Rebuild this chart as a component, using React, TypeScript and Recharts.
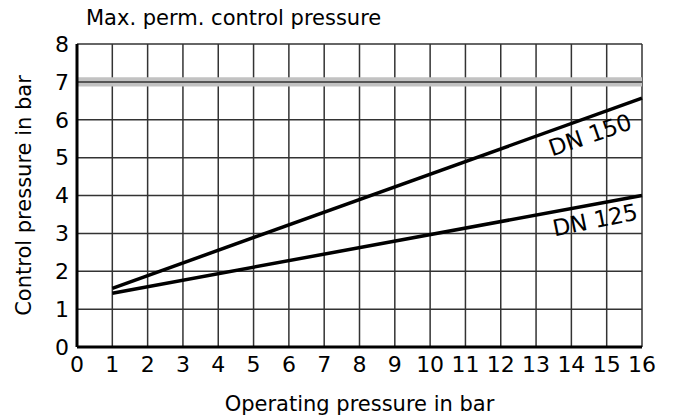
import {
  LineChart,
  Line,
  XAxis,
  YAxis,
  CartesianGrid,
  ReferenceArea,
  ReferenceLine,
  ReferenceDot,
} from "recharts";

// operating pressure (bar) where the curves start / end
const operatingPressure = [1, 16];
// control pressure
const dn150 = [1.55, 6.57];
const dn125 = [1.42, 4.0];

const xTicks = [0, 1, 2, 3, 4, 5, 6, 7, 8, 9, 10, 11, 12, 13, 14, 15, 16];
const yTicks = [0, 1, 2, 3, 4, 5, 6, 7, 8];

// max. permissible control pressure band
const maxPerm = 7;
const maxPermBand = [6.88, 7.12];

// where the curve labels sit (data coords) and their tilt
const labels = [
  { text: "DN 150", x: 14.53, y: 5.6, angle: -19 },
  { text: "DN 125", x: 14.67, y: 3.35, angle: -11.5 },
];

const data = operatingPressure.map((p, i) => ({
  p,
  dn150: dn150[i],
  dn125: dn125[i],
}));

const FONT = "'DejaVu Sans', sans-serif";
const GRID = "#333";

export default function App() {
  return (
    <div style={{ position: "absolute", left: 0, top: 0, background: "#fff" }}>
      <LineChart
        width={673}
        height={419}
        data={data}
        margin={{ top: 44, right: 31, bottom: 0, left: 0 }}
        style={{ fontFamily: FONT }}
      >
        <CartesianGrid stroke={GRID} strokeWidth={1.5} />
        <ReferenceArea
          y1={maxPermBand[0]}
          y2={maxPermBand[1]}
          fill="#c2c2c2"
          fillOpacity={1}
          stroke="none"
        />
        <ReferenceLine y={maxPerm} stroke={GRID} strokeWidth={1.5} />
        <XAxis
          dataKey="p"
          type="number"
          domain={[0, 16]}
          ticks={xTicks}
          interval={0}
          height={72}
          tickLine={false}
          tickMargin={3}
          axisLine={{ stroke: "#000", strokeWidth: 3 }}
          tick={{ fontSize: 22, fill: "#000" }}
          label={{
            value: "Operating pressure in bar",
            position: "insideBottom",
            offset: 8,
            style: { fontSize: 21, fill: "#000" },
          }}
        />
        <YAxis
          type="number"
          domain={[0, 8]}
          ticks={yTicks}
          interval={0}
          width={77}
          tickLine={false}
          axisLine={{ stroke: "#000", strokeWidth: 3 }}
          tick={{ fontSize: 22, fill: "#000" }}
          label={{
            value: "Control pressure in bar",
            angle: -90,
            position: "insideLeft",
            offset: 24,
            style: { fontSize: 21, fill: "#000", textAnchor: "middle" },
          }}
        />
        <Line
          dataKey="dn150"
          stroke="#000"
          strokeWidth={3.5}
          dot={false}
          isAnimationActive={false}
        />
        <Line
          dataKey="dn125"
          stroke="#000"
          strokeWidth={3.5}
          dot={false}
          isAnimationActive={false}
        />
        {labels.map((l) => (
          <ReferenceDot
            key={l.text}
            x={l.x}
            y={l.y}
            r={0}
            shape={(props: any) => (
              <text
                x={props.cx}
                y={props.cy}
                textAnchor="middle"
                dominantBaseline="central"
                fontSize={23}
                fill="#000"
                transform={`rotate(${l.angle} ${props.cx} ${props.cy})`}
              >
                {l.text}
              </text>
            )}
          />
        ))}
        <text x={86} y={25} fontSize={21} fill="#000">
          Max. perm. control pressure
        </text>
      </LineChart>
    </div>
  );
}
